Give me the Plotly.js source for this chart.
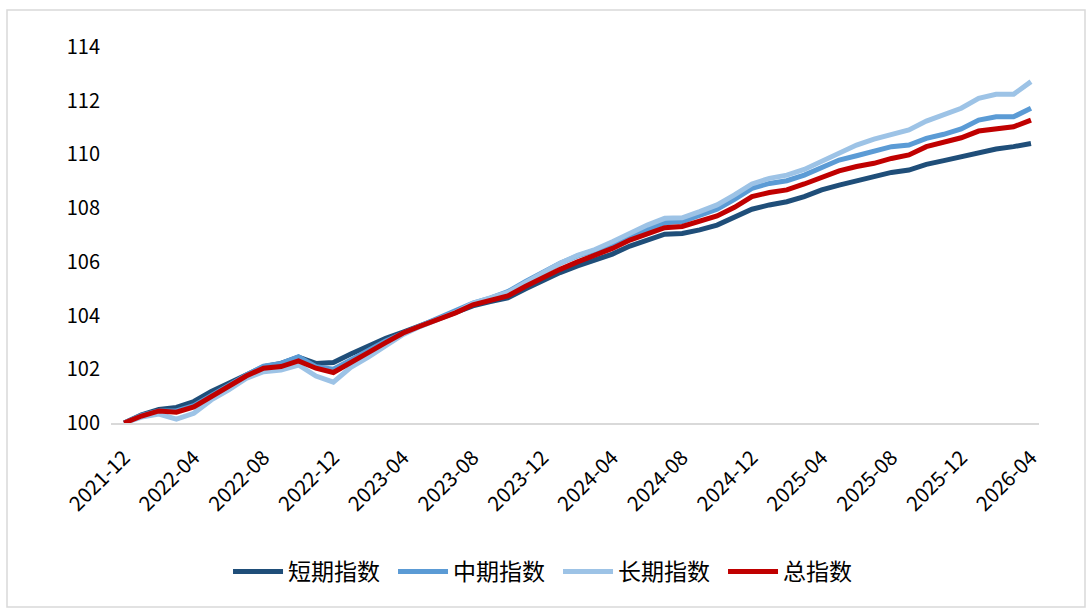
<!DOCTYPE html>
<html>
<head>
<meta charset="utf-8">
<script src="https://cdn.plot.ly/plotly-3.0.1.min.js"></script>
<style>
html,body{margin:0;padding:0;background:#fff;}
#chart{width:1091px;height:615px;}
</style>
</head>
<body>
<div id="chart"></div>
<script>
const months = [
"2021-12","2022-01","2022-02","2022-03","2022-04","2022-05","2022-06","2022-07","2022-08","2022-09","2022-10","2022-11","2022-12",
"2023-01","2023-02","2023-03","2023-04","2023-05","2023-06","2023-07","2023-08","2023-09","2023-10","2023-11","2023-12",
"2024-01","2024-02","2024-03","2024-04","2024-05","2024-06","2024-07","2024-08","2024-09","2024-10","2024-11","2024-12",
"2025-01","2025-02","2025-03","2025-04","2025-05","2025-06","2025-07","2025-08","2025-09","2025-10","2025-11","2025-12",
"2026-01","2026-02","2026-03","2026-04"];

const shortIdx = [100,100.3,100.5,100.58,100.8,101.17,101.48,101.8,102.1,102.22,102.45,102.22,102.25,
102.57,102.86,103.15,103.38,103.62,103.86,104.08,104.36,104.52,104.66,104.99,105.32,
105.6,105.85,106.07,106.29,106.59,106.81,107.03,107.06,107.19,107.37,107.66,107.96,
108.12,108.24,108.43,108.68,108.86,109.02,109.17,109.33,109.42,109.63,109.77,109.91,
110.08,110.2,110.29,110.41];

const midIdx = [100,100.28,100.45,100.45,100.65,101.05,101.4,101.78,102.12,102.22,102.47,102.1,102.0,
102.35,102.7,103.05,103.34,103.62,103.88,104.14,104.46,104.65,104.89,105.26,105.63,
105.95,106.22,106.44,106.63,106.94,107.21,107.46,107.5,107.71,107.96,108.33,108.74,
108.92,109.02,109.23,109.52,109.79,109.95,110.1,110.29,110.35,110.6,110.75,110.95,
111.28,111.4,111.4,111.72];

const longIdx = [100,100.22,100.33,100.14,100.36,100.86,101.23,101.66,101.91,101.97,102.16,101.75,101.52,
102.07,102.45,102.87,103.3,103.6,103.86,104.12,104.46,104.65,104.86,105.22,105.58,
105.95,106.24,106.46,106.75,107.08,107.37,107.62,107.64,107.87,108.12,108.49,108.9,
109.11,109.23,109.44,109.73,110.04,110.35,110.57,110.75,110.91,111.24,111.47,111.72,
112.09,112.24,112.24,112.71];

const totalIdx = [100,100.26,100.45,100.4,100.6,100.98,101.35,101.75,102.04,102.1,102.31,102.04,101.88,
102.27,102.62,102.99,103.35,103.61,103.86,104.1,104.4,104.56,104.73,105.08,105.42,
105.72,106.0,106.25,106.5,106.81,107.06,107.27,107.32,107.5,107.71,108.03,108.43,
108.58,108.68,108.9,109.17,109.39,109.55,109.67,109.85,109.98,110.29,110.45,110.62,
110.87,110.97,111.03,111.28];

const tickMonths = ["2021-12","2022-04","2022-08","2022-12","2023-04","2023-08","2023-12","2024-04","2024-08","2024-12","2025-04","2025-08","2025-12","2026-04"];
const yTicks = [100,102,104,106,108,110,112,114];

const seriesNames = ["短期指数","中期指数","长期指数","总指数"];
const seriesData = [shortIdx, midIdx, longIdx, totalIdx];
const colors = ["#1F4E79","#5B9BD5","#9DC3E6","#C00000"];

const traces = seriesData.map((d,i)=>({
  x: months, y: d, name: seriesNames[i], type: 'scatter', mode: 'lines',
  line: {color: colors[i], width: 5}
}));

const layout = {
  width: 1091, height: 615,
  margin: {l:111, r:52, t:47, b:192},
  paper_bgcolor: '#fff', plot_bgcolor: '#fff',
  showlegend: true,
  legend: {orientation:'h', x:0.4817, xanchor:'center', y:-0.395, yanchor:'middle',
    font:{family:'"Noto Sans CJK SC", sans-serif', size:23, color:'#000'},
    itemwidth: 50, entrywidth: 100, entrywidthmode:'pixels', traceorder:'normal'},
  xaxis: {type:'category', range:[-0.75,52.46], tickvals: tickMonths, ticktext: tickMonths,
    tickangle:-45, showgrid:false, zeroline:false, showline:true, linecolor:'#d9d9d9', linewidth:1.5,
    ticks:'', tickfont:{family:'"Noto Sans CJK SC", sans-serif', size:20.5, color:'#000'}, ticklabelstandoff: 13},
  yaxis: {range:[100,114], tickvals: yTicks, showgrid:false, zeroline:false, showline:false,
    ticks:'', tickfont:{family:'"Noto Sans CJK SC", sans-serif', size:20, color:'#000'}, ticklabelstandoff: 10},
  shapes: [{type:'rect', xref:'paper', yref:'paper', x0:(7-111)/928, x1:(1085-111)/928,
    y0:(423-607)/376, y1:(423-10)/376, line:{color:'#d9d9d9', width:1.5}, fillcolor:'rgba(0,0,0,0)', layer:'below'}]
};

Plotly.newPlot('chart', traces, layout, {displayModeBar:false, staticPlot:true});
</script>
</body>
</html>
